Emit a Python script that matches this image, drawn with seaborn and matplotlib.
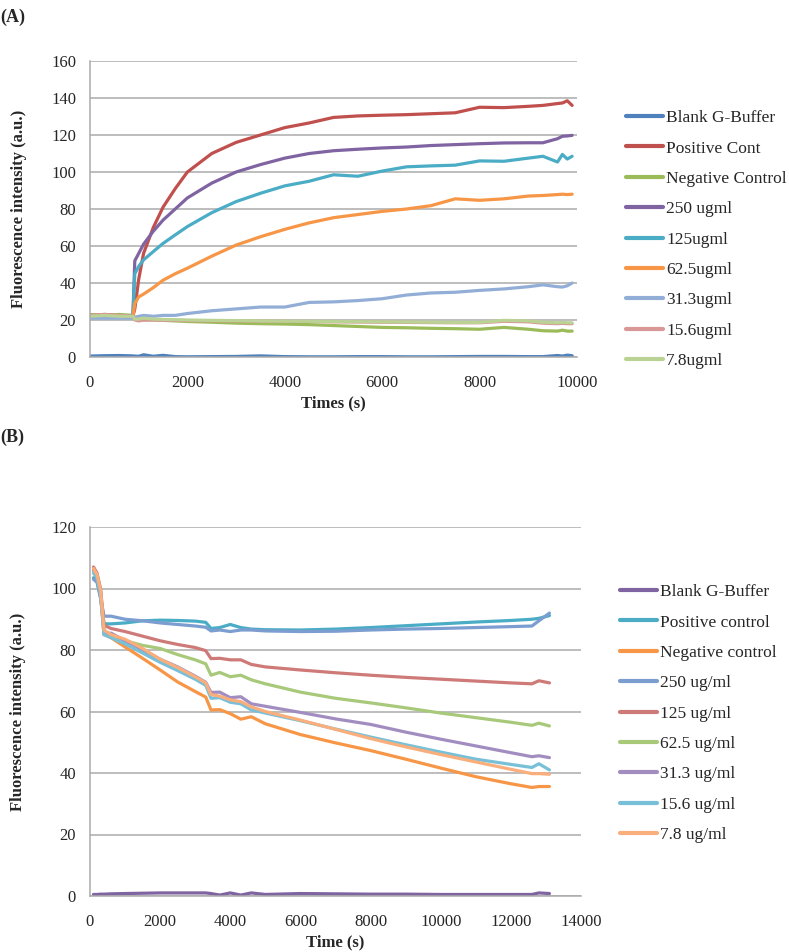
import matplotlib
matplotlib.use("Agg")
import pandas as pd
import matplotlib.pyplot as plt
import seaborn as sns

sns.set_style("white")
plt.rcParams["font.family"] = ["Liberation Serif", "DejaVu Serif"]

# ---------------- Panel A data ----------------
time_a = [0, 300, 600, 880, 920, 1000, 1100, 1300, 1500, 1750, 2000, 2500, 3000, 3500, 4000,
          4500, 5000, 5500, 6000, 6500, 7000, 7500, 8000, 8500, 9000, 9300, 9600, 9700, 9800, 9900]

labels_a = ["Blank G-Buffer", "Positive Cont", "Negative Control", "250 ugml", "125ugml",
            "62.5ugml", "31.3ugml", "15.6ugml", "7.8ugml"]
colors_a = ["#4F81BD", "#C0504D", "#9BBB59", "#8064A2", "#4BACC6",
            "#F79646", "#93AED6", "#D99795", "#BBD295"]

blank_a = [0.5, 0.7, 0.8, 0.6, 0.5, 0.4, 1.2, 0.4, 0.9, 0.2, 0.1, 0.2, 0.3, 0.6, 0.2,
           0.1, 0.1, 0.2, 0.2, 0.1, 0.1, 0.2, 0.3, 0.3, 0.2, 0.2, 0.8, 0.5, 1.0, 0.7]
positive_a = [22.5, 23, 22.5, 22, 26, 42, 56, 70, 81, 91, 100, 110, 116, 120, 124,
              126.5, 129.5, 130.3, 130.7, 131, 131.5, 132, 135, 134.8, 135.5, 136, 137, 137.3, 138.5, 136]
negative_a = [23, 22.5, 23, 22.5, 21, 20.5, 20, 20, 19.8, 19.5, 19.2, 18.8, 18.3, 18, 17.8,
              17.5, 17, 16.5, 16, 15.8, 15.5, 15.3, 15, 16, 15, 14.2, 14, 14.5, 14, 14]
c250_a = [22, 22.5, 22, 22, 52, 56, 61, 68, 74, 80, 86, 94, 100, 104, 107.5,
          110, 111.5, 112.3, 113, 113.5, 114.3, 114.8, 115.3, 115.7, 115.8, 115.8, 118, 119.3, 119.5, 119.8]
c125_a = [21.5, 22, 21.5, 21.5, 45, 49, 52.5, 57, 61.4, 66, 70.5, 78, 84, 88.5, 92.5,
          95, 98.5, 97.7, 100.5, 102.8, 103.3, 103.7, 106, 105.8, 107.5, 108.5, 105.4, 109.5, 107, 108.5]
c62_a = [22, 22.5, 22, 21.5, 29, 32.5, 34, 37.5, 41.5, 45, 48, 54.5, 60.5, 65, 69,
         72.5, 75.3, 77, 78.7, 80, 81.8, 85.5, 84.7, 85.5, 87, 87.3, 87.8, 88, 87.8, 88]
c31_a = [21, 21, 21, 21, 21.5, 22, 22.5, 22, 22.5, 22.5, 23.5, 25, 26, 27, 27,
         29.5, 29.8, 30.5, 31.5, 33.5, 34.6, 35, 36, 36.8, 38, 39, 38, 37.8, 38.5, 40]
c15_a = [22.5, 23, 22.5, 22, 20, 19.5, 20, 20, 19.8, 19.8, 19.7, 19.6, 19.5, 19.4, 19.3,
         19.2, 19, 18.9, 18.8, 18.7, 18.6, 18.5, 18.5, 19.3, 19, 18.3, 18, 18.2, 18, 18]
c7_a = [22, 22.5, 22, 22, 20.5, 20.5, 21, 20.5, 20.3, 20.2, 20, 19.8, 19.7, 19.5, 19.4,
        19.3, 19.2, 19.1, 19, 18.9, 18.8, 18.7, 18.7, 19.8, 19.5, 18.8, 18.5, 18.7, 18.5, 18.5]
series_a = [blank_a, positive_a, negative_a, c250_a, c125_a, c62_a, c31_a, c15_a, c7_a]

# ---------------- Panel B data ----------------
time_b = [100, 200, 300, 400, 600, 1000, 1500, 2000, 2500, 3000, 3300, 3450, 3700, 4000,
          4300, 4600, 5000, 6000, 7000, 8000, 9000, 10000, 11000, 12000, 12600, 12800, 13100]

labels_b = ["Blank G-Buffer", "Positive control", "Negative control", "250 ug/ml", "125 ug/ml",
            "62.5 ug/ml", "31.3 ug/ml", "15.6 ug/ml", "7.8 ug/ml"]
colors_b = ["#8064A2", "#4BACC6", "#F79646", "#7C9DD0", "#CE7A78",
            "#A8C97A", "#A28DC1", "#78C0D8", "#F9AE7C"]

blank_b = [0.5, 0.5, 0.6, 0.6, 0.7, 0.8, 0.9, 1.0, 1.0, 1.0, 1.0, 0.8, 0.3, 1.0,
           0.3, 1.0, 0.5, 0.8, 0.7, 0.6, 0.6, 0.5, 0.5, 0.5, 0.5, 1.0, 0.8]
positive_b = [103.5, 102.5, 97, 88.5, 88.5, 88.8, 89.5, 89.7, 89.6, 89.4, 89, 87, 87.3, 88.3,
              87.3, 86.8, 86.6, 86.5, 86.8, 87.3, 87.9, 88.5, 89.1, 89.6, 90, 90.3, 91.2]
negative_b = [106, 104, 98, 85, 84, 81, 77.3, 73.5, 69.6, 66.5, 64.7, 60.5, 60.6, 59.3,
              57.5, 58.3, 56, 52.5, 49.8, 47.3, 44.5, 41.6, 38.8, 36.5, 35.3, 35.6, 35.6]
c250_b = [103, 102, 97, 91, 91, 90, 89.5, 88.8, 88.3, 87.8, 87.4, 86.2, 86.5, 86,
          86.5, 86.5, 86.2, 86, 86.1, 86.5, 86.8, 87, 87.3, 87.6, 87.8, 89.5, 92]
c125_b = [107, 105, 100, 88, 87, 86, 84.5, 83, 81.8, 80.8, 79.8, 77.2, 77.3, 76.8,
          76.8, 75.3, 74.5, 73.5, 72.6, 71.8, 71.1, 70.5, 69.9, 69.3, 69, 70, 69.3]
c62_b = [106, 104.5, 99, 86, 85, 83, 81.5, 80.5, 78.5, 76.8, 75.5, 71.8, 72.7, 71.3,
         71.8, 70.3, 69, 66.3, 64.3, 62.8, 61.2, 59.5, 58, 56.5, 55.5, 56.2, 55.3]
c31_b = [106, 104, 99, 85, 85.5, 83, 80, 77, 74.5, 71.5, 69.5, 66.2, 66.3, 64.5,
         64.8, 62.5, 61.7, 59.7, 57.6, 55.8, 53.3, 51, 48.8, 46.6, 45.3, 45.6, 45]
c15_b = [105, 103.5, 98, 85, 84, 82, 79, 76, 73.3, 70.5, 68.5, 64.3, 64.5, 63,
         62.5, 60.5, 59.5, 57, 54.3, 51.7, 49.2, 46.8, 44.5, 42.8, 41.8, 43, 41]
c7_b = [106.5, 104.5, 99.5, 86.5, 85, 83.5, 80.5, 77, 74.3, 71.3, 69.3, 65.5, 65, 63.8,
        63.2, 61.5, 60, 57.2, 54.2, 51.2, 48.5, 46, 43.6, 41.2, 39.8, 39.8, 39.6]
series_b = [blank_b, positive_b, negative_b, c250_b, c125_b, c62_b, c31_b, c15_b, c7_b]


def long_table(times, labels, series):
    rows = []
    for lab, vals in zip(labels, series):
        for t, v in zip(times, vals):
            rows.append({"time": t, "value": v, "sample": lab})
    return pd.DataFrame(rows)


df_a = long_table(time_a, labels_a, series_a)
df_b = long_table(time_b, labels_b, series_b)

fig = plt.figure(figsize=(7.89, 9.52), dpi=100)
ax_a = fig.add_axes([90 / 789, 1 - 357 / 952, 487 / 789, 296 / 952])
ax_b = fig.add_axes([90 / 789, 1 - 896 / 952, 491 / 789, 369 / 952])

grid_col = "#ABABAB"


def style_axis(ax, df, labels, colors, xmax, ymax, xlabel, legend_top):
    sns.lineplot(data=df, x="time", y="value", hue="sample", hue_order=labels,
                 palette=colors, estimator=None, sort=False, linewidth=2.3, ax=ax)
    ax.set_xlim(0, xmax)
    ax.set_ylim(0, ymax)
    ax.set_xticks(range(0, xmax + 1, 2000))
    ax.set_yticks(range(0, ymax + 1, 20))
    ax.yaxis.grid(True, color=grid_col, linewidth=1.1)
    ax.set_axisbelow(True)
    for s in ["top", "right"]:
        ax.spines[s].set_visible(False)
    for s in ["left", "bottom"]:
        ax.spines[s].set_color(grid_col)
        ax.spines[s].set_linewidth(1.1)
    ax.tick_params(axis="x", length=0, pad=13, labelsize=12)
    ax.tick_params(axis="y", length=0, pad=10, labelsize=12)
    ax.set_xlabel(xlabel, fontsize=12, fontweight="bold", labelpad=3)
    ax.set_ylabel("Fluorescence intensity (a.u.)", fontsize=12, fontweight="bold")
    ax.yaxis.set_label_coords(-0.13, 0.5)
    handles, labs = ax.get_legend_handles_labels()
    leg = ax.legend(handles, labs, loc="upper left", bbox_to_anchor=legend_top,
                    frameon=False, fontsize=12.5, handlelength=2.15, handletextpad=0.17,
                    labelspacing=0.82, borderpad=0, borderaxespad=0)
    for ln in leg.get_lines():
        ln.set_linewidth(3)


style_axis(ax_a, df_a, labels_a, colors_a, 10000, 160, "Times (s)",
           ((626 - 90) / 487, (357 - 110) / 296))
style_axis(ax_b, df_b, labels_b, colors_b, 14000, 120, "Time (s)",
           ((620 - 90) / 491, (896 - 584) / 369))

fig.text(0.0, 1 - 17 / 952, "(A)", fontsize=13, fontweight="bold", va="center")
fig.text(0.0, 1 - 437 / 952, "(B)", fontsize=13, fontweight="bold", va="center")

fig.savefig("out.png", dpi=100)
